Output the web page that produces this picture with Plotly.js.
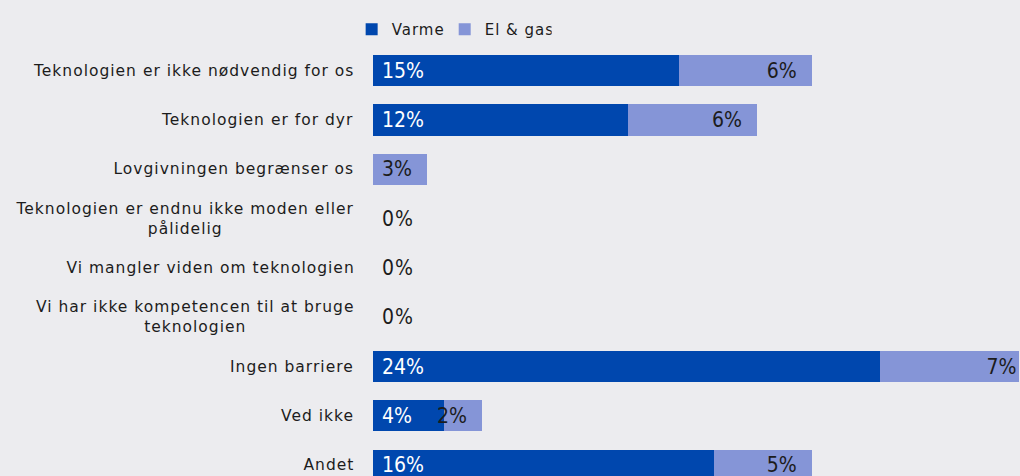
<!DOCTYPE html>
<html>
<head>
<meta charset="utf-8">
<script src="https://cdn.plot.ly/plotly-3.0.1.min.js"></script>
<style>
  html, body { margin: 0; padding: 0; background: #ececef; }
  #chart { width: 1020px; height: 476px; }
  #chart .annotation-text, #chart .legendtext { letter-spacing: 1px; }
</style>
</head>
<body>
<div id="chart"></div>
<script>
// barrierer, top to bottom
const categories = [
    "Teknologien er ikke nødvendig for os",
    "Teknologien er for dyr",
    "Lovgivningen begrænser os",
    "Teknologien er endnu ikke moden eller<br>pålidelig",
    "Vi mangler viden om teknologien",
    "Vi har ikke kompetencen til at bruge<br>teknologien",
    "Ingen barriere",
    "Ved ikke",
    "Andet"
];

const varme       = [14.75, 12.3, 0, 0, 0, 0, 24.45, 3.42, 16.44];
const varmeLabels = ["15%", "12%", "", "", "", "", "24%", "4%", "16%"];

const elgas       = [6.41, 6.22, 2.6, 0, 0, 0, 6.72, 1.83, 4.72];
const elgasLabels = ["6%", "6%", "3%", "", "", "", "7%", "2%", "5%"];

const zeroLabel = "0%";

const BLUE  = "#0047ae";
const LIGHT = "#8595d7";
const INK   = "#1c1c1c";
const FONT  = "DejaVu Sans Condensed, DejaVu Sans, sans-serif";
const SPACING = 1; // px, must match the css letter-spacing

const traces = [
    {
        type: "bar", orientation: "h", name: "Varme",
        y: categories, x: varme,
        text: varmeLabels.map(t => t ? " " + t : ""),
        textposition: "inside", insidetextanchor: "start",
        constraintext: "none",
        textfont: { color: "#ffffff", size: 21, family: FONT },
        marker: { color: BLUE },
        hoverinfo: "skip"
    },
    {
        type: "bar", orientation: "h", name: "El & gas",
        y: categories, x: elgas,
        // the 24% bar runs into the right edge, so no padding there
        text: elgasLabels.map((t, i) => !t ? "" : (i === 6 ? t : t + "  ")),
        textposition: "inside", insidetextanchor: "end",
        constraintext: "none",
        textfont: { color: INK, size: 21, family: FONT },
        marker: { color: LIGHT },
        hoverinfo: "skip"
    }
];

// category labels as annotations so two-line labels are centred.
// letter-spacing widens the text around its middle, so pull it back left
const annotations = categories.map(c => {
    const longest = Math.max(...c.split("<br>").map(s => s.length));
    return {
        xref: "paper", yref: "y", x: 0, y: c,
        xanchor: "right", yanchor: "middle",
        xshift: -17 - longest * SPACING / 2,
        text: c, align: "center", showarrow: false,
        font: { size: 15.5, color: INK, family: "DejaVu Sans, sans-serif" }
    };
});

// rows with nothing get a plain 0% next to the axis
categories.forEach((c, i) => {
    if (varme[i] === 0 && elgas[i] === 0) {
        annotations.push({
            xref: "x", yref: "y", x: 0, y: c,
            xanchor: "left", xshift: 8,
            text: zeroLabel, showarrow: false,
            font: { size: 21, color: INK, family: FONT }
        });
    }
});

const layout = {
    width: 1020, height: 476,
    barmode: "stack",
    bargap: 0.37,
    paper_bgcolor: "#ececef",
    plot_bgcolor: "#ececef",
    margin: { l: 373, r: 0, t: 46, b: 0 },
    font: { family: "DejaVu Sans, sans-serif", color: INK },
    showlegend: true,
    legend: {
        orientation: "h", x: -0.033, xanchor: "left",
        y: 1, yanchor: "bottom",
        font: { size: 15, color: INK },
        itemwidth: 30, traceorder: "normal",
        bgcolor: "rgba(0,0,0,0)"
    },
    xaxis: {
        range: [0, 31.2], visible: false, fixedrange: true
    },
    yaxis: {
        type: "category", categoryorder: "array", categoryarray: categories,
        range: [8.22, -0.5], autorange: false,
        showticklabels: false, showgrid: false, zeroline: false,
        showline: false, ticks: ""
    },
    annotations: annotations
};

Plotly.newPlot("chart", traces, layout, { staticPlot: true });
</script>
</body>
</html>
